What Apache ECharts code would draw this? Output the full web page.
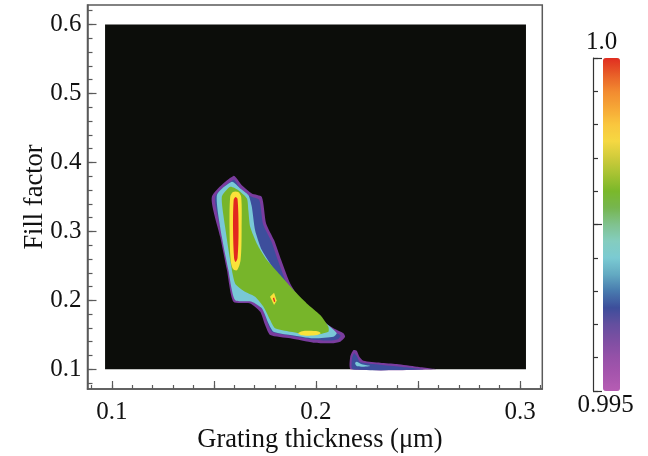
<!DOCTYPE html>
<html>
<head>
<meta charset="utf-8">
<script src="https://cdn.jsdelivr.net/npm/echarts@6/dist/echarts.min.js"></script>
<style>
  html, body { margin: 0; padding: 0; background: #fff; }
  #main { width: 648px; height: 456px; }
</style>
</head>
<body>
<div id="main"></div>
<script>
// axis ticks / labels
var xLabelTicks = [0.1, 0.2, 0.3];
var xMajorTicks = [0.1, 0.15, 0.2, 0.25, 0.3];
var xMinorTicks = [0.09, 0.1, 0.11, 0.12, 0.13, 0.14, 0.15, 0.16, 0.17, 0.18, 0.19, 0.2,
    0.21, 0.22, 0.23, 0.24, 0.25, 0.26, 0.27, 0.28, 0.29, 0.3, 0.31];
var yMajorTicks = [0.1, 0.2, 0.3, 0.4, 0.5, 0.6];
var yMinorTicks = [0.08, 0.1, 0.12, 0.14, 0.16, 0.18, 0.2, 0.22, 0.24, 0.26, 0.28, 0.3,
    0.32, 0.34, 0.36, 0.38, 0.4, 0.42, 0.44, 0.46, 0.48, 0.5, 0.52, 0.54, 0.56, 0.58, 0.6, 0.62];
var barMajorTicks = [0.995, 0.9975, 1.0];
var barMinorTicks = [0.995, 0.9955, 0.996, 0.9965, 0.997, 0.9975, 0.998, 0.9985, 0.999, 0.9995, 1.0];
var barLabels = ['1.0', '0.995'];

// computed domain (drawn black = below 0.995)
var xRange = [0.0967, 0.3029];
var yRange = [0.1, 0.6];

// contour level 0.9955 (outer)
var lvPurple = [[0.149, 0.350], [0.1596, 0.3805], [0.1637, 0.367], [0.1686, 0.355], [0.1735, 0.350],
    [0.1756, 0.3116], [0.1795, 0.2874], [0.1830, 0.2584], [0.1874, 0.2246], [0.1939, 0.1956],
    [0.2005, 0.1762], [0.2086, 0.1594], [0.2135, 0.1522], [0.2143, 0.1472], [0.2119, 0.140],
    [0.2078, 0.1377], [0.1988, 0.1385], [0.1874, 0.1449], [0.1776, 0.1497], [0.1751, 0.1642],
    [0.1727, 0.1835], [0.1678, 0.1956], [0.1596, 0.198], [0.1564, 0.2439], [0.1531, 0.2921]];
var lvPurple2 = [[0.2171, 0.1], [0.2168, 0.1183], [0.2184, 0.128], [0.220, 0.127], [0.2213, 0.1183],
    [0.2233, 0.1125], [0.2315, 0.1096], [0.2396, 0.1077], [0.2494, 0.1038], [0.2592, 0.1]];

// contour level 0.9965
var lvBlue = [[0.1506, 0.3497], [0.1597, 0.375], [0.1629, 0.3627], [0.1678, 0.3511], [0.1722, 0.346],
    [0.1741, 0.3105], [0.1781, 0.2859], [0.1815, 0.2569], [0.1859, 0.2229], [0.1925, 0.1939],
    [0.1993, 0.1736], [0.2077, 0.1562], [0.2121, 0.149], [0.2109, 0.1439], [0.2075, 0.1417],
    [0.1988, 0.1429], [0.1874, 0.149], [0.1786, 0.154], [0.1764, 0.1664], [0.1739, 0.1866],
    [0.1683, 0.1997], [0.1607, 0.2023], [0.1575, 0.2453], [0.1543, 0.2931]];
var lvBlue2 = [[0.218, 0.1], [0.2177, 0.1159], [0.2187, 0.1232], [0.220, 0.1193], [0.2216, 0.1106],
    [0.2315, 0.1067], [0.2412, 0.1038], [0.2527, 0.1]];

// contour level 0.997
var lvCyan = [[0.1515, 0.3526], [0.1588, 0.3718], [0.1629, 0.3623], [0.1669, 0.3526], [0.1686, 0.3356],
    [0.1702, 0.3018], [0.1735, 0.2729], [0.1808, 0.2391], [0.1874, 0.2149], [0.1955, 0.1907],
    [0.2021, 0.1739], [0.2078, 0.1594], [0.2102, 0.1522], [0.2086, 0.1472], [0.1988, 0.1449],
    [0.1874, 0.1497], [0.1792, 0.1545], [0.1767, 0.1667], [0.1735, 0.1884], [0.1686, 0.198],
    [0.1604, 0.2004], [0.1571, 0.2439], [0.1539, 0.2921]];
var lvCyan2 = [[0.2192, 0.1087], [0.220, 0.111], [0.2225, 0.1072], [0.2265, 0.1048], [0.2232, 0.1038],
    [0.220, 0.1048]];

// contour level 0.998
var lvGreen = [[0.1539, 0.3501], [0.158, 0.3646], [0.162, 0.3598], [0.1662, 0.3478], [0.1669, 0.3308],
    [0.1678, 0.3066], [0.171, 0.2826], [0.176, 0.2584], [0.1825, 0.2366], [0.189, 0.2149],
    [0.1955, 0.1956], [0.2021, 0.1787], [0.2061, 0.1617], [0.2061, 0.1545], [0.1988, 0.1497],
    [0.1874, 0.1545], [0.180, 0.1594], [0.1776, 0.1714], [0.1743, 0.1907], [0.1702, 0.2052],
    [0.1653, 0.2124], [0.1604, 0.2246], [0.158, 0.2584], [0.1555, 0.3066]];

// contour level 0.999
var lvYellow = [[0.158, 0.3498], [0.1594, 0.357], [0.1619, 0.357], [0.1634, 0.3498], [0.1636, 0.3019],
    [0.1631, 0.2584], [0.1614, 0.2439], [0.1594, 0.2453], [0.1582, 0.2584], [0.1577, 0.3019]];
var lvYellow2 = [[0.1775, 0.2052], [0.1795, 0.211], [0.1808, 0.1994], [0.1795, 0.1932]];
var lvYellow3 = [[0.1913, 0.1522], [0.1933, 0.1552], [0.1967, 0.1558], [0.2011, 0.1548], [0.2023, 0.1522],
    [0.2006, 0.1497], [0.1967, 0.1488], [0.1928, 0.1494]];

// contour level 0.9998
var lvRed = [[0.1597, 0.3454], [0.1606, 0.3497], [0.1616, 0.3468], [0.1621, 0.3019], [0.1616, 0.2613],
    [0.1606, 0.2555], [0.1599, 0.2613], [0.1594, 0.3019]];
var lvRed2 = [[0.1789, 0.2029], [0.1795, 0.204], [0.1801, 0.1982], [0.1795, 0.1975]];

var barColors = ['#b65db3', '#a655ad', '#9651a8', '#7e4fa3', '#644f9f', '#3d4e9b', '#487aae',
    '#63aac2', '#7bcad2', '#84cdbf', '#80c28e', '#76b650', '#7ab82a', '#a6c232', '#cfcb3b',
    '#f5d842', '#f9c63e', '#f6a736', '#f28a30', '#e85e28', '#e02d20'];

var FONT = 'Liberation Serif';
var AXIS_COLOR = '#5a5a5a';

function polySeries(pts, color, smooth, z) {
    return {
        type: 'custom',
        coordinateSystem: 'cartesian2d',
        xAxisIndex: 0,
        yAxisIndex: 0,
        silent: true,
        z: z,
        data: pts,
        renderItem: function (params, api) {
            if (params.dataIndex !== 0) return;
            var points = pts.map(function (p) { return api.coord(p); });
            return {
                type: 'polygon',
                shape: { points: points, smooth: smooth },
                style: { fill: color, stroke: null }
            };
        }
    };
}

function render() {
    var myChart = echarts.init(document.getElementById('main'));

    var domain = [[xRange[0], yRange[0]], [xRange[1], yRange[0]], [xRange[1], yRange[1]], [xRange[0], yRange[1]]];

    var layers = [
        [domain, '#0c0d0a', 0],
        [lvPurple, '#7a3c9e', 0.2],
        [lvPurple2, '#7a3c9e', 0.2],
        [lvBlue, '#3d4e9c', 0.2],
        [lvBlue2, '#3d4e9c', 0.2],
        [lvCyan, '#79c8d7', 0.2],
        [lvCyan2, '#79c8d7', 0.3],
        [lvGreen, '#77b52a', 0.2],
        [lvYellow, '#fae23a', 0.3],
        [lvYellow2, '#fae23a', 0],
        [lvYellow3, '#fae23a', 0.3],
        [lvRed, '#e2271f', 0.3],
        [lvRed2, '#e2271f', 0]
    ];
    var seriesArr = [];
    for (var i = 0; i < layers.length; i++) {
        seriesArr.push(polySeries(layers[i][0], layers[i][1], layers[i][2], 2 + i));
    }

    var tickStyle = { fontFamily: FONT, fontSize: 25, color: '#111' };
    var nameStyle = { fontFamily: FONT, fontSize: 26.5, color: '#111' };

    var option = {
        backgroundColor: '#fff',
        animation: false,
        grid: [
            { left: 87.5, right: 105.7, top: 5, bottom: 67, show: true, borderColor: AXIS_COLOR, borderWidth: 1.5,
              backgroundColor: 'transparent', outerBoundsMode: 'none', containLabel: false },
            { left: 593, top: 58, width: 27, height: 333, outerBoundsMode: 'none', containLabel: false }
        ],
        xAxis: [
            {
                type: 'value', gridIndex: 0, position: 'bottom', min: 0.0881, max: 0.3109,
                name: 'Grating thickness (μm)', nameLocation: 'middle', nameGap: 38, nameMoveOverlap: false,
                nameTextStyle: Object.assign({ padding: [0, 0, 0, 10] }, nameStyle),
                axisLine: { show: true, lineStyle: { color: AXIS_COLOR, width: 1.5 } },
                axisTick: { show: true, inside: true, length: 8, customValues: xMajorTicks, lineStyle: { color: AXIS_COLOR, width: 1.2 } },
                axisLabel: Object.assign({ customValues: xLabelTicks, margin: 11 }, tickStyle),
                splitLine: { show: false }
            },
            {
                type: 'value', gridIndex: 0, position: 'bottom', min: 0.0881, max: 0.3109,
                axisLine: { show: false },
                axisTick: { show: true, inside: true, length: 4, customValues: xMinorTicks, lineStyle: { color: AXIS_COLOR, width: 1.2 } },
                axisLabel: { show: false },
                splitLine: { show: false }
            },
            {
                type: 'value', gridIndex: 1, position: 'bottom', min: 0, max: 1,
                name: barLabels[1], nameLocation: 'middle', nameGap: 2, nameMoveOverlap: false,
                nameTextStyle: Object.assign({ padding: [0, 2, 0, 0] }, tickStyle),
                axisLine: { show: false }, axisTick: { show: false }, axisLabel: { show: false }, splitLine: { show: false }
            },
            {
                type: 'value', gridIndex: 1, position: 'top', min: 0, max: 1,
                name: barLabels[0], nameLocation: 'middle', nameGap: 3, nameMoveOverlap: false,
                nameTextStyle: Object.assign({ padding: [0, 10, 0, 0] }, tickStyle),
                axisLine: { show: false }, axisTick: { show: false }, axisLabel: { show: false }, splitLine: { show: false }
            }
        ],
        yAxis: [
            {
                type: 'value', gridIndex: 0, position: 'left', min: 0.07143, max: 0.6283,
                name: 'Fill factor', nameLocation: 'middle', nameGap: 39, nameMoveOverlap: false,
                nameTextStyle: nameStyle,
                axisLine: { show: true, lineStyle: { color: AXIS_COLOR, width: 1.5 } },
                axisTick: { show: true, inside: true, length: 9, customValues: yMajorTicks, lineStyle: { color: AXIS_COLOR, width: 1.2 } },
                axisLabel: Object.assign({ customValues: yMajorTicks, margin: 6 }, tickStyle),
                splitLine: { show: false }
            },
            {
                type: 'value', gridIndex: 0, position: 'left', min: 0.07143, max: 0.6283,
                axisLine: { show: false },
                axisTick: { show: true, inside: true, length: 5, customValues: yMinorTicks, lineStyle: { color: AXIS_COLOR, width: 1.2 } },
                axisLabel: { show: false },
                splitLine: { show: false }
            },
            {
                type: 'value', gridIndex: 1, position: 'left', min: 0.995, max: 1.0,
                axisLine: { show: true, lineStyle: { color: '#333', width: 1.2 } },
                axisTick: { show: true, inside: true, length: 9, customValues: barMajorTicks, lineStyle: { color: '#333', width: 1.2 } },
                axisLabel: { show: false },
                splitLine: { show: false }
            },
            {
                type: 'value', gridIndex: 1, position: 'left', min: 0.995, max: 1.0,
                axisLine: { show: false },
                axisTick: { show: true, inside: true, length: 5, customValues: barMinorTicks, lineStyle: { color: '#333', width: 1.2 } },
                axisLabel: { show: false },
                splitLine: { show: false }
            }
        ],
        visualMap: {
            type: 'continuous',
            min: 0.995,
            max: 1.0,
            seriesIndex: [],
            calculable: false,
            hoverLink: false,
            orient: 'vertical',
            left: 588,
            top: 43,
            itemWidth: 17,
            itemHeight: 333,
            text: null,
            inRange: { color: barColors }
        },
        series: seriesArr
    };

    myChart.setOption(option);
}

render();
</script>
</body>
</html>
